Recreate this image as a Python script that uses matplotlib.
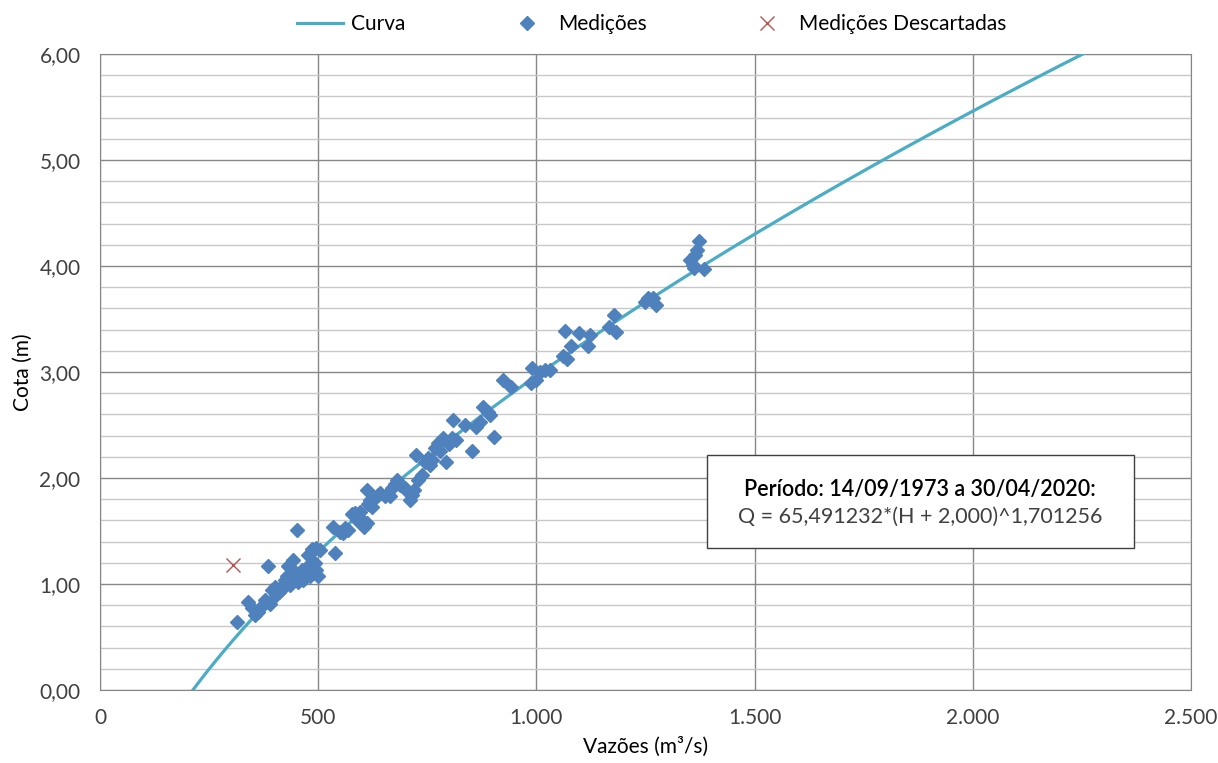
"""
Curva-chave: cota x vazão, medições e curva ajustada.
"""

import numpy as np
import matplotlib.pyplot as plt
from matplotlib.patches import Rectangle
from matplotlib.ticker import FuncFormatter, MultipleLocator

plt.rcParams.update({
    "font.family": ["Lato", "DejaVu Sans"],
    "figure.dpi": 100,
})

# curve coefficients, as given in the chart text
COEF_A = 65.491232
COEF_H0 = 2.000
COEF_N = 1.701256
curve_h = np.linspace(0.0, 6.2, 200)

med_q = [314, 339, 348, 362, 373, 355, 378, 390, 394, 385, 403, 412, 419, 424,
         428, 431, 435, 440, 447, 451, 454, 458, 463, 470, 474, 481, 486, 488,
         495, 500, 477, 486, 495, 504, 442, 401, 410, 420, 466, 484, 492,
         534, 539, 557, 568, 578, 589, 596, 603, 605, 612, 614, 619, 623, 630,
         637, 642, 653, 665, 669, 676, 680, 687, 699, 706, 710, 715, 720, 724,
         729, 738, 745, 752, 756, 761, 768, 775, 779, 786, 793, 800, 807, 809,
         816, 836, 852, 862, 871, 878, 889, 894, 903, 550, 561, 584, 600, 612,
         923, 942, 988, 990, 999, 1008, 1020, 1031, 1061, 1066, 1070, 1079,
         1098, 1118, 1123, 1166, 1178, 1182, 1249, 1256, 1267, 1274, 1352,
         1359, 1363, 1368, 1372, 1361, 1384]
med_h = [0.64, 0.83, 0.77, 0.74, 0.80, 0.71, 0.85, 0.81, 0.94, 1.17, 0.90, 0.94,
         0.99, 1.04, 1.08, 1.17, 0.99, 1.06, 1.11, 1.51, 1.02, 1.08, 1.13, 1.06,
         1.16, 1.08, 1.18, 1.10, 1.13, 1.08, 1.27, 1.33, 1.34, 1.32, 1.23, 0.97,
         0.92, 0.96, 1.04, 1.14, 1.20,
         1.54, 1.29, 1.48, 1.51, 1.66, 1.60, 1.68, 1.58, 1.54, 1.89, 1.75, 1.79,
         1.73, 1.81, 1.84, 1.86, 1.83, 1.83, 1.91, 1.94, 1.98, 1.93, 1.91, 1.87,
         1.79, 1.84, 1.89, 2.22, 1.98, 2.03, 2.15, 2.19, 2.12, 2.17, 2.28, 2.33,
         2.25, 2.38, 2.15, 2.32, 2.38, 2.55, 2.36, 2.50, 2.25, 2.48, 2.53, 2.67,
         2.62, 2.59, 2.39, 1.49, 1.53, 1.67, 1.60, 1.58,
         2.92, 2.86, 2.90, 3.04, 2.92, 3.00, 3.02, 3.02, 3.15, 3.39, 3.12, 3.25,
         3.37, 3.25, 3.35, 3.42, 3.54, 3.38, 3.66, 3.70, 3.70, 3.63, 4.06, 4.01,
         4.10, 4.15, 4.24, 3.98, 3.97]

desc_q = [305]
desc_h = [1.18]

PERIODO = "Período: 14/09/1973 a 30/04/2020:"
EQUACAO = "Q = 65,491232*(H + 2,000)^1,701256"

curve_q = COEF_A * (curve_h + COEF_H0) ** COEF_N

fig = plt.figure(figsize=(12.18, 7.63))
ax = fig.add_axes([0.0821, 0.0957, 0.8957, 0.8335])

ax.plot(curve_q, curve_h, color="#4BACC6", linewidth=2.3, label="Curva", zorder=3)
ax.plot(med_q, med_h, linestyle="none", marker="D", markersize=7.5,
        color="#4F81BD", label="Medições", zorder=4)
ax.plot(desc_q, desc_h, linestyle="none", marker="x", markersize=10,
        markeredgewidth=1.0, color="#C0504D", label="Medições Descartadas", zorder=4)

ax.set_xlim(0, 2500)
ax.set_ylim(0, 6)
ax.xaxis.set_major_locator(MultipleLocator(500))
ax.yaxis.set_major_locator(MultipleLocator(1))
ax.yaxis.set_minor_locator(MultipleLocator(0.2))
ax.xaxis.set_major_formatter(FuncFormatter(lambda v, p: f"{v:,.0f}".replace(",", ".")))
ax.yaxis.set_major_formatter(FuncFormatter(lambda v, p: f"{v:.2f}".replace(".", ",")))

ax.grid(which="major", color="#878787", linewidth=1.0, zorder=0)
ax.grid(which="minor", axis="y", color="#C8C8C8", linewidth=1.0, zorder=0)
ax.set_axisbelow(True)
ax.tick_params(which="both", length=0, labelsize=15, colors="#404040")
ax.tick_params(axis="x", pad=13)
ax.tick_params(axis="y", pad=14)
for sp in ax.spines.values():
    sp.set_color("#878787")

ax.set_xlabel("Vazões (m³/s)", fontsize=15, color="black", labelpad=6)
ax.set_ylabel("Cota (m)", fontsize=15, color="black", labelpad=5)

# caixa com a equação
ax.add_patch(Rectangle((0.5564, 0.2233), 0.3914, 0.1462, transform=ax.transAxes,
                       facecolor="white", edgecolor="#404040", linewidth=1.0, zorder=6))
ax.text(0.7516, 0.316, PERIODO, transform=ax.transAxes, ha="center", va="center",
        fontsize=15.5, fontweight="semibold", color="black", zorder=7)
ax.text(0.7516, 0.272, EQUACAO, transform=ax.transAxes, ha="center", va="center",
        fontsize=15.5, color="#404040", zorder=7)

fig.legend(loc="center", bbox_to_anchor=(0.535, 0.968), ncol=3, frameon=False,
           fontsize=15, columnspacing=4.7, handlelength=2.2, handletextpad=0.4)

plt.savefig("out.png", dpi=100)
